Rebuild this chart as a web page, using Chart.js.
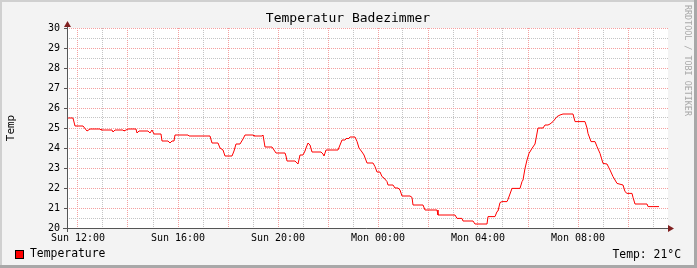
<!DOCTYPE html>
<html>
<head>
<meta charset="utf-8">
<script src="https://cdn.jsdelivr.net/npm/chart.js@4.4.0/dist/chart.umd.min.js"></script>
<style>
html, body { margin: 0; padding: 0; background: #f3f3f3; }
canvas { display: block; }
</style>
</head>
<body>
<canvas id="tempChart" width="697" height="268"></canvas>
<script>
// time in hours since Sun 00:00
let hours = [11.56, 11.80, 11.88, 12.20, 12.36, 12.48, 12.88, 12.92, 13.36, 13.40, 13.48, 13.80, 13.84, 14.00,
    14.32, 14.36, 14.44, 14.80, 14.88, 14.96, 15.04, 15.32, 15.36, 15.60, 15.68, 15.76, 15.84, 15.88, 16.40,
    16.44, 17.28, 17.36, 17.60, 17.68, 17.80, 17.88, 18.16, 18.24, 18.32, 18.48, 18.60, 18.68, 19.00, 19.04,
    19.36, 19.40, 19.48, 19.76, 19.84, 19.92, 20.28, 20.32, 20.36, 20.68, 20.80, 20.88, 21.00, 21.08, 21.12,
    21.20, 21.28, 21.36, 21.72, 21.80, 21.84, 21.92, 22.40, 22.56, 22.68, 22.76, 22.80, 22.88, 23.08, 23.16,
    23.24, 23.36, 23.44, 23.56, 23.80, 23.88, 23.96, 24.08, 24.16, 24.24, 24.36, 24.40, 24.60, 24.68, 24.80,
    24.88, 24.96, 25.28, 25.36, 25.40, 25.80, 25.88, 26.36, 26.40, 27.08, 27.16, 27.36, 27.40, 27.80, 27.88,
    28.36, 28.40, 28.68, 28.76, 28.80, 28.88, 28.96, 29.16, 29.20, 29.36, 29.68, 29.76, 29.80, 29.88, 29.96,
    30.04, 30.16, 30.28, 30.40, 30.60, 30.68, 30.80, 30.88, 31.00, 31.16, 31.28, 31.40, 31.80, 31.88, 32.28,
    32.36, 32.40, 32.52, 32.68, 32.76, 32.88, 33.00, 33.16, 33.28, 33.40, 33.56, 33.80, 33.88, 33.96, 34.16,
    34.20, 34.28, 34.76, 34.80, 35.24];
let temps = [25.5, 25.5, 25.1, 25.1, 24.85, 24.95, 24.95, 24.9, 24.9, 24.8, 24.9, 24.9, 24.85, 24.95,
    24.95, 24.75, 24.85, 24.85, 24.75, 24.9, 24.7, 24.7, 24.35, 24.35, 24.25, 24.35, 24.35, 24.65, 24.65,
    24.6, 24.6, 24.25, 24.25, 24.0, 23.9, 23.6, 23.6, 23.85, 24.2, 24.2, 24.45, 24.65, 24.65, 24.6,
    24.6, 24.65, 24.05, 24.05, 23.9, 23.75, 23.75, 23.6, 23.35, 23.35, 23.2, 23.65, 23.65, 23.85, 24.0,
    24.25, 24.15, 23.8, 23.8, 23.7, 23.6, 23.9, 23.9, 24.4, 24.4, 24.5, 24.45, 24.55, 24.55, 24.33,
    24.0, 23.8, 23.65, 23.25, 23.25, 23.07, 22.8, 22.8, 22.57, 22.5, 22.32, 22.15, 22.15, 22.0, 22.0,
    21.9, 21.6, 21.6, 21.53, 21.15, 21.15, 20.9, 20.9, 20.65, 20.65, 20.48, 20.48, 20.35, 20.35, 20.2,
    20.2, 20.57, 20.57, 20.82, 20.85, 21.27, 21.32, 21.32, 21.43, 21.98, 21.98, 22.32, 22.4, 22.98, 23.4,
    23.73, 23.98, 24.2, 25.0, 25.0, 25.15, 25.15, 25.2, 25.32, 25.57, 25.65, 25.7, 25.7, 25.32, 25.32,
    25.0, 24.73, 24.32, 24.32, 24.07, 23.73, 23.23, 23.2, 22.9, 22.57, 22.23, 22.15, 21.82, 21.73, 21.73,
    21.53, 21.2, 21.2, 21.07, 21.07];

let xGridHours = [12, 13, 14, 15, 16, 17, 18, 19, 20, 21, 22, 23, 24, 25, 26, 27, 28, 29, 30, 31, 32, 33, 34, 35];
let xLabelHours = [12, 16, 20, 24, 28, 32];
let yGridValues = [20, 20.5, 21, 21.5, 22, 22.5, 23, 23.5, 24, 24.5, 25, 25.5, 26, 26.5, 27, 27.5, 28, 28.5, 29, 29.5, 30];

const MONO = "'DejaVu Sans Mono', monospace";
const MAJOR = "#f4a0a0";
const MINOR = "#c4c4c4";

function timeLabel(h) {
    let day = h < 24 ? "Sun" : "Mon";
    let hh = String(h % 24).padStart(2, "0");
    return day + " " + hh + ":00";
}

// RRDtool look: frame, white plot area, axes with arrows, texts
const rrdDecor = {
    id: "rrdDecor",
    beforeDraw(chart) {
        let ctx = chart.ctx, a = chart.chartArea;
        let w = chart.width, h = chart.height;
        ctx.save();
        ctx.fillStyle = "#f3f3f3";
        ctx.fillRect(0, 0, w, h);
        ctx.fillStyle = "#d0d0d0";
        ctx.fillRect(0, 0, w, 2);
        ctx.fillRect(0, 0, 2, h);
        ctx.fillStyle = "#a8a8a8";
        ctx.fillRect(0, h - 3, w, 3);
        ctx.fillRect(w - 3, 0, 3, h);
        ctx.fillStyle = "#ffffff";
        ctx.fillRect(a.left, a.top, a.right - a.left, a.bottom - a.top);
        ctx.restore();
    },
    afterDraw(chart) {
        let ctx = chart.ctx, a = chart.chartArea;
        let yScale = chart.scales.y;
        ctx.save();

        // axes
        ctx.strokeStyle = "#555555";
        ctx.lineWidth = 1;
        ctx.beginPath();
        ctx.moveTo(a.left - 4, Math.round(a.bottom) + 0.5);
        ctx.lineTo(a.right + 2, Math.round(a.bottom) + 0.5);
        ctx.moveTo(Math.round(a.left) + 0.5, a.bottom + 4);
        ctx.lineTo(Math.round(a.left) + 0.5, a.top - 2);
        // small ticks on the y axis
        yGridValues.forEach(v => {
            if (Number.isInteger(v)) {
                let y = Math.round(yScale.getPixelForValue(v)) + 0.5;
                ctx.moveTo(a.left - 3, y);
                ctx.lineTo(a.left, y);
            }
        });
        ctx.stroke();

        // arrows
        ctx.fillStyle = "#802020";
        ctx.beginPath();
        ctx.moveTo(a.left + 0.5, a.top - 7);
        ctx.lineTo(a.left - 3, a.top - 1);
        ctx.lineTo(a.left + 4, a.top - 1);
        ctx.closePath();
        ctx.fill();
        ctx.beginPath();
        ctx.moveTo(a.right + 6, a.bottom + 0.5);
        ctx.lineTo(a.right, a.bottom - 3);
        ctx.lineTo(a.right, a.bottom + 4);
        ctx.closePath();
        ctx.fill();

        // title
        ctx.fillStyle = "#000000";
        ctx.textBaseline = "middle";
        ctx.textAlign = "center";
        ctx.font = "13px " + MONO;
        ctx.fillText("Temperatur Badezimmer", 348, 19);

        // y axis label
        ctx.save();
        ctx.translate(11, 128);
        ctx.rotate(-Math.PI / 2);
        ctx.font = "11px " + MONO;
        ctx.fillText("Temp", 0, 0);
        ctx.restore();

        // legend
        ctx.fillStyle = "#ff0000";
        ctx.fillRect(15, 250, 9, 9);
        ctx.strokeStyle = "#000000";
        ctx.strokeRect(15.5, 250.5, 8, 8);
        ctx.fillStyle = "#000000";
        ctx.textAlign = "left";
        ctx.font = "11.4px " + MONO;
        ctx.fillText("Temperature", 30, 254.5);

        let current = Math.round(temps[temps.length - 1]);
        ctx.textAlign = "right";
        ctx.fillText("Temp: " + current + "\u00b0C", 681, 255);

        // watermark
        ctx.save();
        ctx.translate(687, 5);
        ctx.rotate(Math.PI / 2);
        ctx.textAlign = "left";
        ctx.fillStyle = "#a8a8a8";
        ctx.font = "8.4px " + MONO;
        ctx.fillText("RRDTOOL / TOBI OETIKER", 0, 0);
        ctx.restore();

        ctx.restore();
    }
};

let chart = new Chart(document.getElementById("tempChart"), {
    type: "line",
    data: {
        datasets: [{
            label: "Temperature",
            data: hours.map((h, i) => ({ x: h, y: temps[i] })),
            borderColor: "#ff0000",
            borderWidth: 1,
            pointRadius: 0,
            tension: 0,
            fill: false
        }]
    },
    options: {
        responsive: false,
        animation: false,
        layout: { padding: { left: 0, top: 28, right: 29, bottom: 0 } },
        plugins: {
            legend: { display: false },
            title: { display: false },
            tooltip: { enabled: false }
        },
        scales: {
            x: {
                type: "linear",
                min: 11.56,
                max: 35.6,
                afterBuildTicks: scale => { scale.ticks = xGridHours.map(v => ({ value: v })); },
                afterFit: scale => { scale.height = 40; },
                ticks: {
                    autoSkip: false,
                    maxRotation: 0,
                    padding: 4,
                    color: "#000000",
                    font: { family: MONO, size: 10 },
                    callback: v => xLabelHours.includes(v) ? timeLabel(v) : ""
                },
                grid: {
                    drawTicks: false,
                    lineWidth: 1,
                    color: c => (c.tick && c.tick.value % 2 === 0) ? MAJOR : MINOR
                },
                border: { display: false, dash: [1, 1] }
            },
            y: {
                min: 20,
                max: 30,
                afterBuildTicks: scale => { scale.ticks = yGridValues.map(v => ({ value: v })); },
                afterFit: scale => { scale.width = 67; },
                ticks: {
                    autoSkip: false,
                    padding: 7,
                    color: "#000000",
                    font: { family: MONO, size: 10 },
                    callback: v => Number.isInteger(v) ? String(v) : ""
                },
                grid: {
                    drawTicks: false,
                    lineWidth: 1,
                    color: c => (c.tick && Number.isInteger(c.tick.value)) ? MAJOR : MINOR
                },
                border: { display: false, dash: [1, 1] }
            }
        }
    },
    plugins: [rrdDecor]
});
</script>
</body>
</html>
